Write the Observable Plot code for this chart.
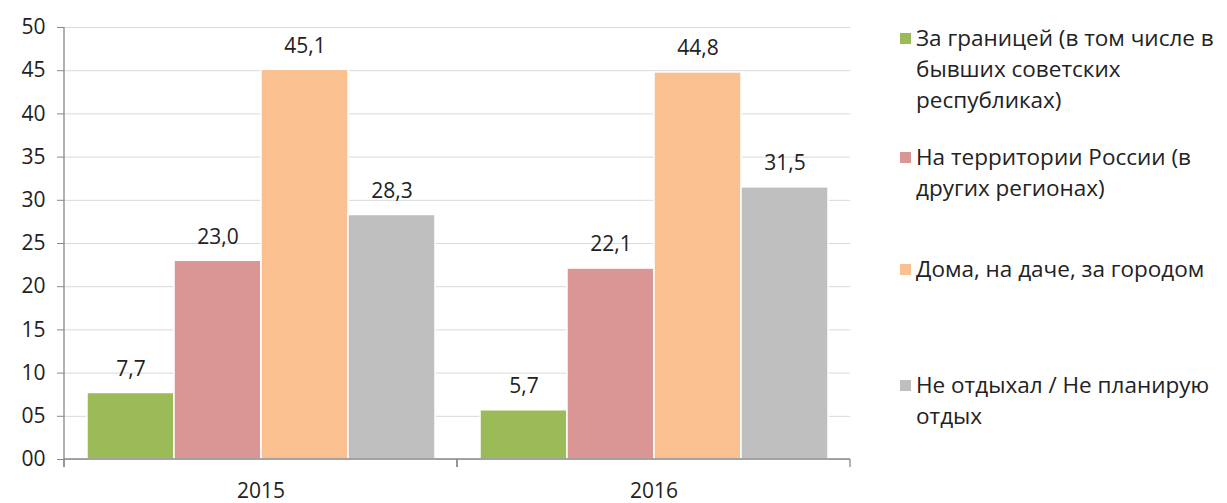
<!DOCTYPE html>
<html><head><meta charset="utf-8">
<script src="https://cdn.jsdelivr.net/npm/d3@7"></script>
<script src="https://cdn.jsdelivr.net/npm/@observablehq/plot@0.6"></script>
<style>
body{margin:0;font-family:"Open Sans",sans-serif;background:#fff;}
#wrap{position:relative;width:1227px;height:503px;}
#legend{position:absolute;left:900px;top:0;width:327px;font-size:22.5px;color:#222;}
.li{position:absolute;left:0;display:flex;line-height:31px;}
.tx{width:310px;}
.sw{width:11px;height:11px;margin-top:11px;margin-right:5px;flex:none;}
</style></head><body>
<div id="wrap"><div id="chart"></div><div id="legend"></div></div>
<script>
const years = ["2015","2016"];
const categories = ["За границей (в том числе в бывших советских республиках)","На территории России (в других регионах)","Дома, на даче, за городом","Не отдыхал / Не планирую отдых"];
const values2015 = [7.7,23.0,45.1,28.3];
const values2016 = [5.7,22.1,44.8,31.5];
const colors = ["#9BBB59","#D99694","#FAC090","#BFBFBF"];
const yTicks = [0,5,10,15,20,25,30,35,40,45,50];
const legendTops = [22,141,253,369];

const data = [];
years.forEach((y,i)=>categories.forEach((c,j)=>data.push({year:y,cat:c,value:(i?values2016:values2015)[j]})));

const W=870,H=503,mL=64,mR=20,mT=27,mB=44;
const fs=21;
const chart = Plot.plot({
  width:W,height:H,marginLeft:mL,marginRight:mR,marginTop:mT,marginBottom:mB,
  style:{fontFamily:"Open Sans",fontSize:fs+"px",color:"#222"},
  fx:{domain:years,padding:0,label:null},
  x:{domain:categories,paddingInner:0,paddingOuter:0.25,axis:null},
  y:{domain:[0,50],ticks:yTicks,label:null},
  color:{domain:categories,range:colors},
  marks:[
    Plot.gridY(yTicks,{stroke:"#d9d9d9",strokeOpacity:1}),
    Plot.axisY(yTicks,{facetAnchor:"left",tickFormat:d=>String(d).padStart(2,"0"),tickSize:7,stroke:"#888",tickPadding:12,fontSize:fs,label:null}),
    Plot.axisFx({anchor:"bottom",tickSize:0,tickPadding:24,fontSize:fs,label:null}),
    Plot.barY(data,{fx:"year",x:"cat",y:"value",fill:"cat",stroke:"white",strokeWidth:1.5}),
    Plot.text(data,{fx:"year",x:"cat",y:"value",text:d=>d.value.toFixed(1).replace(".",","),dy:-24,fontSize:fs,fill:"#222"}),
    Plot.frame({facet:"super",render:(index,scales)=>{
      const g=d3.create("svg:g").attr("stroke","#888").attr("stroke-width",1.3);
      const y0=scales.y(0);
      g.append("line").attr("x1",mL).attr("x2",mL).attr("y1",mT).attr("y2",y0+8);
      g.append("line").attr("x1",mL).attr("x2",W-mR).attr("y1",y0).attr("y2",y0);
      const bw=scales.fx.bandwidth();
      years.forEach(y=>{const x=scales.fx(y);[x,x+bw].forEach(p=>g.append("line").attr("x1",p).attr("x2",p).attr("y1",y0).attr("y2",y0+8));});
      return g.node();
    }})
  ]
});
document.getElementById("chart").append(chart);
const lg=document.getElementById("legend");
categories.forEach((c,i)=>{
  const d=document.createElement("div");d.className="li";d.style.top=legendTops[i]+"px";
  d.innerHTML=`<div class="sw" style="background:${colors[i]}"></div><div class="tx">${c}</div>`;
  lg.append(d);
});
</script></body></html>
